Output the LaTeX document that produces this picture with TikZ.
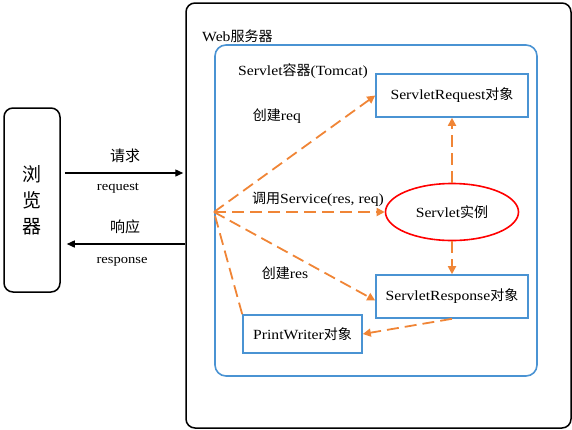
\documentclass[tikz,border=0pt]{standalone}
\usepackage{fontspec}
\setmainfont{Liberation Serif}[FakeStretch=1.12]
\newfontfamily\cjk{Noto Sans CJK SC}
\usetikzlibrary{arrows.meta,positioning,shapes.geometric}
\definecolor{boxblue}{HTML}{4A93D3}
\definecolor{flowor}{HTML}{F08536}

\tikzset{
  txt/.style={inner sep=0pt, font=\fontsize{14}{16}\selectfont},
  objbox/.style={draw=boxblue, line width=1.6pt, inner sep=0pt, font=\fontsize{14}{16}\selectfont},
  flow/.style={draw=flowor, line width=1.8pt, dash pattern=on 12pt off 6pt},
  flowtip/.style={flow, -{Triangle[length=8pt,width=8pt]}},
  httparrow/.style={line width=1.4pt, -{Triangle[length=8pt,width=7pt]}, shorten >=2pt}
}

\begin{document}
\begin{tikzpicture}[x=1pt,y=-1pt]
\useasboundingbox (0,0) rectangle (572,429);

\node[draw, line width=1.5pt, rounded corners=9pt, minimum width=56pt, minimum height=184pt,
      align=center, font=\cjk\fontsize{19}{26}\selectfont] (browser) at (32,200) {浏\\览\\器};
\node[draw, line width=1.5pt, rounded corners=9pt, minimum width=385pt, minimum height=425pt] (web) at (378.5,215.5) {};
\node[txt, anchor=west] (weblabel) at (202,36) {Web{\cjk 服务器}};
\node[draw=boxblue, line width=1.6pt, rounded corners=11pt, minimum width=322pt, minimum height=331pt] (container) at (376,210.5) {};
\node[txt, anchor=west] (contlabel) at (238,71) {Servlet{\cjk 容器}(Tomcat)};

\node[objbox, minimum width=152pt, minimum height=43pt] (request) at (452,95.5) {ServletRequest{\cjk 对象}};
\node[ellipse, draw=red, line width=1.6pt, minimum width=133pt, minimum height=57pt, inner sep=0pt,
      font=\fontsize{14}{16}\selectfont] (servlet) at (452,212) {Servlet{\cjk 实例}};
\node[objbox, minimum width=152pt, minimum height=43pt] (response) at (452,296.5) {ServletResponse{\cjk 对象}};
\node[objbox, minimum width=119pt, minimum height=38pt] (writer) at (302.5,334) {PrintWriter{\cjk 对象}};

\coordinate (hub) at (214,212);
\draw[flowtip] (hub) -- (request.west);
\draw[flowtip] (hub) -- (servlet.west);
\draw[flowtip] (hub) -- ([yshift=-4pt]response.west);
\draw[flow] (writer.north west) -- (hub);
\draw[flowtip] (servlet.north) -- (request.south);
\draw[flowtip] (servlet.south) -- (response.north);
\draw[flowtip] (response.south) -- (writer.east);

\node[txt] (createreq) at (277,116) {{\cjk 创建}req};
\node[txt] (callsvc) at (318,199) {{\cjk 调用}Service(res, req)};
\node[txt] (createres) at (285,273) {{\cjk 创建}res};

\draw[httparrow] ([xshift=4pt]browser.east |- 0,173) -- (web.west |- 0,173);
\draw[httparrow] (web.west |- 0,244) -- ([xshift=4pt]browser.east |- 0,244);
\node[txt, font=\cjk\fontsize{15}{17}\selectfont] (reqcn) at (125,156) {请求};
\node[txt, font=\fontsize{13}{15}\selectfont] (reqen) at (118,188) {request};
\node[txt, font=\cjk\fontsize{15}{17}\selectfont] (rescn) at (125,227) {响应};
\node[txt, font=\fontsize{13}{15}\selectfont] (resen) at (122,262) {response};
\end{tikzpicture}
\end{document}
